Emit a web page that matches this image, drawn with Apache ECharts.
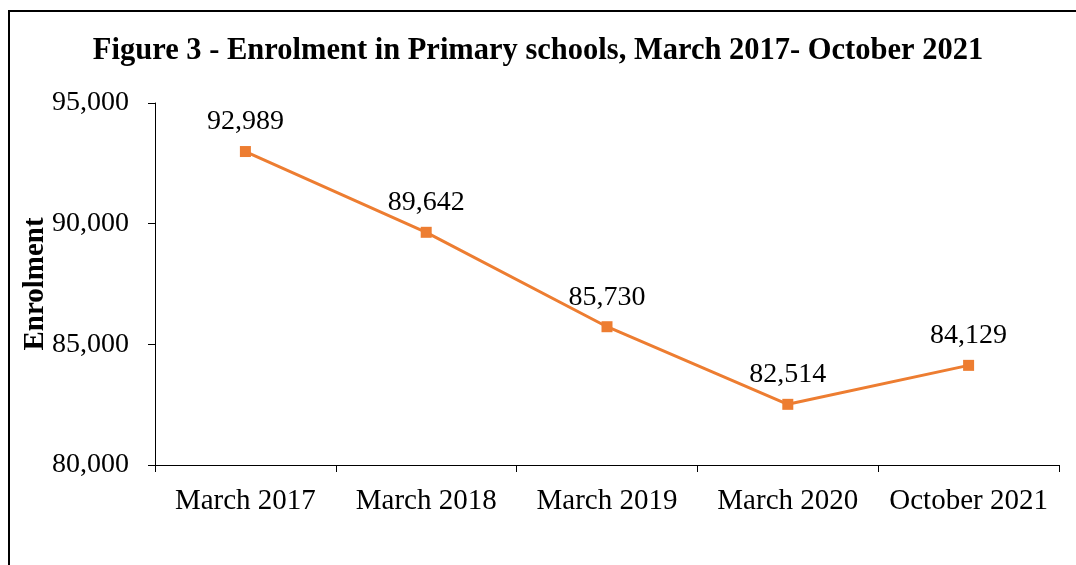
<!DOCTYPE html>
<html>
<head>
<meta charset="UTF-8">
<title>Enrolment in Primary schools</title>
<script src="https://cdn.jsdelivr.net/npm/echarts@6/dist/echarts.min.js"></script>
<style>
	html, body { margin: 0; padding: 0; background: #fff; }
	#main { width: 1076px; height: 565px; }
</style>
</head>
<body>
<div id="main"></div>
<script type="text/javascript">
	var categories = ['March 2017', 'March 2018', 'March 2019', 'March 2020', 'October 2021'];
	var enrolment = [92989, 89642, 85730, 82514, 84129];

	var font = '"Liberation Serif", "Times New Roman", serif';

	function fmt(v) {
		return String(v).replace(/\B(?=(\d{3})+(?!\d))/g, ',');
	}

	var myChart = echarts.init(document.getElementById('main'));
	myChart.setOption({
		animation: false,
		textStyle: { fontFamily: font },
		title: {
			text: 'Figure 3 - Enrolment in Primary schools, March 2017- October 2021',
			left: 'center',
			top: 31,
			textStyle: { fontFamily: font, fontSize: 30.5, fontWeight: 'bold', color: '#000' }
		},
		graphic: [{
			type: 'rect',
			shape: { x: 9, y: 11, width: 1100, height: 600 },
			style: { fill: 'none', stroke: '#000', lineWidth: 2 }
		}],
		grid: { left: 155, right: 17, top: 103, bottom: 100 },
		xAxis: {
			type: 'category',
			data: categories,
			boundaryGap: true,
			axisLine: { lineStyle: { color: '#000', width: 1 } },
			axisTick: { show: true, length: 7, alignWithLabel: false, lineStyle: { color: '#000' } },
			axisLabel: { color: '#000', fontSize: 29, fontFamily: font, margin: 22, interval: 0 },
			splitLine: { show: false }
		},
		yAxis: {
			type: 'value',
			min: 80000,
			max: 95000,
			interval: 5000,
			name: 'Enrolment',
			nameLocation: 'middle',
			nameGap: 105,
			nameMoveOverlap: false,
			nameRotate: 90,
			nameTextStyle: { fontFamily: font, fontSize: 29, fontWeight: 'bold', color: '#000' },
			axisLine: { show: true, lineStyle: { color: '#000', width: 1 } },
			axisTick: { show: true, length: 7, lineStyle: { color: '#000' } },
			axisLabel: { color: '#000', fontSize: 28, fontFamily: font, margin: 26, formatter: fmt },
			splitLine: { show: false }
		},
		series: [{
			name: 'Enrolment',
			type: 'line',
			data: enrolment,
			symbol: 'rect',
			symbolSize: 11,
			itemStyle: { color: '#ED7D31' },
			lineStyle: { color: '#ED7D31', width: 3 },
			label: {
				show: true,
				position: 'top',
				distance: 10,
				color: '#000',
				fontSize: 28,
				fontFamily: font,
				formatter: function (p) { return fmt(p.value); }
			}
		}]
	});
</script>
</body>
</html>
